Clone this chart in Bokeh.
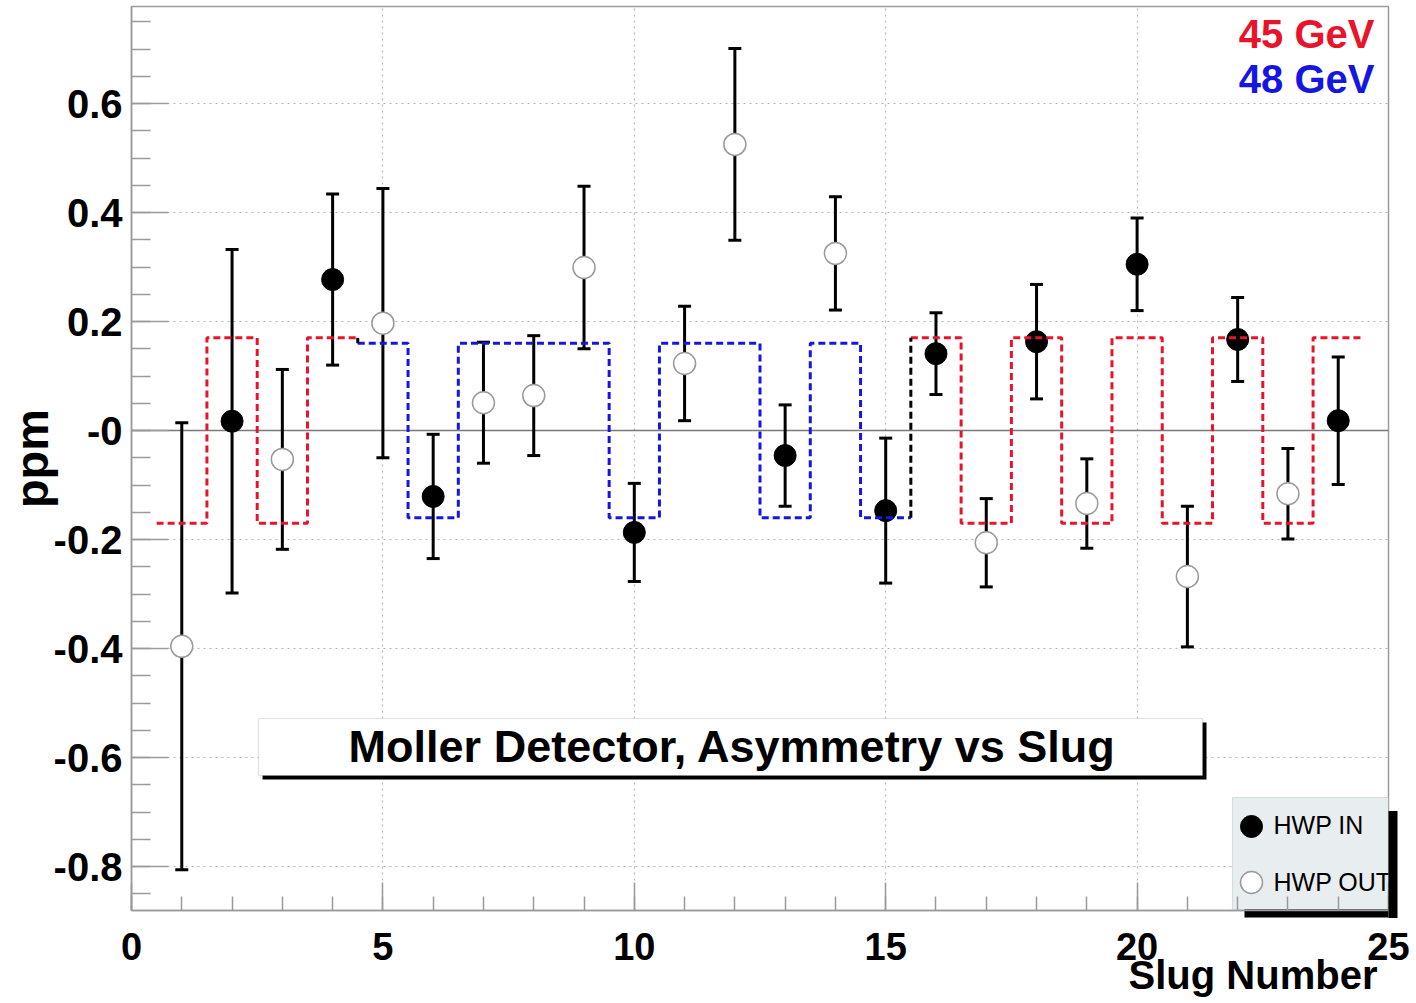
import math
from bokeh.plotting import figure
from bokeh.models import (Range1d, FixedTicker, Whisker, TeeHead, ColumnDataSource,
                          Span, BoxAnnotation, Label, LinearAxis)
from bokeh.embed import file_html
from bokeh.resources import INLINE

# ---------------- data ----------------
slug = list(range(1, 25))
asym_ppm = [-0.396, 0.017, -0.053, 0.277, 0.197, -0.121, 0.051, 0.064, 0.299, -0.187,
            0.123, 0.525, -0.046, 0.325, -0.147, 0.141, -0.206, 0.163, -0.134, 0.305,
            -0.268, 0.167, -0.116, 0.018]
err_ppm = [0.410, 0.315, 0.165, 0.157, 0.247, 0.114, 0.111, 0.110, 0.149, 0.090,
           0.105, 0.176, 0.093, 0.104, 0.133, 0.075, 0.081, 0.105, 0.082, 0.085,
           0.129, 0.077, 0.083, 0.117]
hwp = ["OUT", "IN", "OUT", "IN", "OUT", "IN", "OUT", "OUT", "OUT", "IN",
       "OUT", "OUT", "IN", "OUT", "IN", "IN", "OUT", "IN", "OUT", "IN",
       "OUT", "IN", "OUT", "IN"]
beam_gev = [45, 45, 45, 45, 48, 48, 48, 48, 48, 48,
            48, 48, 48, 48, 48, 45, 45, 45, 45, 45,
            45, 45, 45, 45]
model_ppm = [-0.17, 0.17, -0.17, 0.17, 0.16, -0.16, 0.16, 0.16, 0.16, -0.16,
             0.16, 0.16, -0.16, 0.16, -0.16, 0.17, -0.17, 0.17, -0.17, 0.17,
             -0.17, 0.17, -0.17, 0.17]
x_ticks = [0, 5, 10, 15, 20, 25]
y_ticks = [-0.8, -0.6, -0.4, -0.2, 0.0, 0.2, 0.4, 0.6]
y_tick_labels = ["-0.8", "-0.6", "-0.4", "-0.2", "-0", "0.2", "0.4", "0.6"]
energy_names = {45: "45 GeV", 48: "48 GeV"}
energy_colors = {45: "#e8142c", 48: "#1616e2"}
legend_names = ["HWP IN", "HWP OUT"]
title_text = "Moller Detector, Asymmetry vs Slug"
x_title = "Slug Number"
y_title = "ppm"

# ---------------- layout helpers (canvas pixels -> data) ----------------
FRAME_L, FRAME_R, FRAME_T, FRAME_B = 131.0, 1388.0, 6.0, 910.0
PX_PER_X = (FRAME_R - FRAME_L) / 25.0
ZERO_Y, PX_PER_Y = 430.0, 545.0


def dx(px):
    return (px - FRAME_L) / PX_PER_X


def dy(py):
    return (ZERO_Y - py) / PX_PER_Y


FONT = "Liberation Sans"
GREY = "#9a9a9a"

p = figure(width=1416, height=1003, title=None,
           x_range=Range1d(0, 25), y_range=Range1d(dy(FRAME_B), dy(FRAME_T)),
           output_backend="svg", toolbar_location=None,
           min_border_left=int(FRAME_L), min_border_right=1416 - int(FRAME_R),
           min_border_top=int(FRAME_T), min_border_bottom=1003 - int(FRAME_B),
           background_fill_color="white", border_fill_color="white")
p.outline_line_color = GREY
p.outline_line_width = 1.5

# main axes
xaxis = p.xaxis[0]
yaxis = p.yaxis[0]
xaxis.ticker = FixedTicker(ticks=x_ticks, minor_ticks=list(range(0, 26)))
yaxis.ticker = FixedTicker(ticks=y_ticks,
                           minor_ticks=[round(-0.85 + 0.05 * k, 2) for k in range(33)])
yaxis.major_label_overrides = {t: l for t, l in zip(y_ticks, y_tick_labels)}
xaxis.major_label_overrides = {t: str(t) for t in x_ticks}
for ax in (xaxis, yaxis):
    ax.axis_line_color = GREY
    ax.axis_line_width = 1.5
    ax.major_tick_line_color = GREY
    ax.major_tick_line_width = 1.5
    ax.minor_tick_line_color = GREY
    ax.minor_tick_line_width = 1.5
    ax.major_tick_out = 0
    ax.minor_tick_out = 0
    ax.major_label_text_font = FONT
    ax.major_label_text_font_style = "bold"
    ax.major_label_text_color = "black"
yaxis.major_tick_in = 37
yaxis.minor_tick_in = 19
yaxis.major_label_text_font_size = "40px"
yaxis.major_label_standoff = 9
xaxis.major_tick_in = 28
xaxis.minor_tick_in = 14
xaxis.major_label_text_font_size = "38px"
xaxis.major_label_standoff = 22


def bare_axis(ax):
    ax.ticker = FixedTicker(ticks=[], minor_ticks=[])
    ax.axis_line_color = None
    ax.major_tick_line_color = None
    ax.minor_tick_line_color = None
    ax.major_tick_in = ax.major_tick_out = 0
    ax.minor_tick_in = ax.minor_tick_out = 0
    ax.major_label_standoff = 0
    ax.major_label_text_font_size = "0px"
    ax.axis_label_text_font = FONT
    ax.axis_label_text_font_style = "bold"
    ax.axis_label_text_color = "black"
    return ax


# legend drop shadow, bottom part: one wide tick of a helper axis next to the frame
sh_b = bare_axis(LinearAxis())
sh_b.ticker = FixedTicker(ticks=[dx(1316)], minor_ticks=[])
sh_b.major_label_overrides = {dx(1316): ""}
sh_b.major_tick_line_color = "black"
sh_b.major_tick_line_width = 144
sh_b.major_tick_line_cap = "butt"
sh_b.major_tick_in = -7
sh_b.major_tick_out = -1

# x title: right-aligned under the axis end in the reference; drawn as the single
# label of a helper axis, centred where the reference title is centred
X_TITLE_CENTER = dx(1252.5)
xt = bare_axis(LinearAxis())
xt.ticker = FixedTicker(ticks=[X_TITLE_CENTER], minor_ticks=[])
xt.major_label_overrides = {X_TITLE_CENTER: x_title}
xt.major_label_text_font = FONT
xt.major_label_text_font_style = "bold"
xt.major_label_text_color = "black"
xt.major_label_text_font_size = "40px"
xt.major_label_standoff = -10

p.below = [sh_b, xaxis, xt]

# y title
yt = bare_axis(LinearAxis())
yt.axis_label = y_title
yt.axis_label_text_font_size = "47px"
yt.axis_label_standoff = -7
p.left = [yaxis, yt]

# legend drop shadow, right part: one thick tick of a helper axis on the right
sh_r = LinearAxis()
sh_r.ticker = FixedTicker(ticks=[dy(863.5)], minor_ticks=[])
sh_r.major_label_overrides = {dy(863.5): ""}
sh_r.major_label_text_font_size = "0px"
sh_r.axis_line_color = None
sh_r.major_tick_in = 0
sh_r.major_tick_out = 9
sh_r.major_tick_line_color = "black"
sh_r.major_tick_line_width = 107
sh_r.major_tick_line_cap = "butt"
p.add_layout(sh_r, "right")

# grid
p.xgrid.ticker = FixedTicker(ticks=x_ticks[1:-1])
p.ygrid.ticker = FixedTicker(ticks=y_ticks)
for g in (p.xgrid[0], p.ygrid[0]):
    g.grid_line_color = "#b4b4b4"
    g.grid_line_dash = "2 4"
    g.grid_line_width = 1.2
    g.level = "image"

# zero line
p.add_layout(Span(location=0, dimension="width", line_color="#7a7a7a",
                  line_width=1.5, level="underlay"))

# ---------------- title box ----------------
p.add_layout(BoxAnnotation(left=dx(262), right=dx(1206), top=dy(722), bottom=dy(779),
                           fill_color="black", fill_alpha=1.0, line_color=None,
                           level="underlay"))
p.add_layout(BoxAnnotation(left=dx(258), right=dx(1202), top=dy(718), bottom=dy(775),
                           fill_color="white", fill_alpha=1.0, line_color=GREY,
                           line_width=1.2, level="underlay"))

# ---------------- legend box ----------------
p.add_layout(BoxAnnotation(left=dx(1232), right=dx(1388), top=dy(797), bottom=dy(909),
                           fill_color="#e8edf0", fill_alpha=1.0, line_color=GREY,
                           line_width=1.2, level="underlay"))

# ---------------- error bars ----------------
src = ColumnDataSource(dict(
    slug=slug, asym=asym_ppm,
    upper=[a + e for a, e in zip(asym_ppm, err_ppm)],
    lower=[a - e for a, e in zip(asym_ppm, err_ppm)],
    hwp=hwp))
p.add_layout(Whisker(source=src, base="slug", upper="upper", lower="lower",
                     line_color="black", line_width=3, level="underlay",
                     upper_head=TeeHead(size=13, line_width=3, line_color="black"),
                     lower_head=TeeHead(size=13, line_width=3, line_color="black")))

# ---------------- points ----------------
in_idx = [i for i, h in enumerate(hwp) if h == "IN"]
out_idx = [i for i, h in enumerate(hwp) if h == "OUT"]
src_in = ColumnDataSource(dict(x=[slug[i] for i in in_idx], y=[asym_ppm[i] for i in in_idx]))
src_out = ColumnDataSource(dict(x=[slug[i] for i in out_idx], y=[asym_ppm[i] for i in out_idx]))
p.scatter("x", "y", source=src_in, size=22, marker="circle",
          fill_color="black", line_color="black")
p.scatter("x", "y", source=src_out, size=22, marker="circle",
          fill_color="white", line_color=GREY, line_width=1.5)

# ---------------- expected asymmetry steps ----------------
groups = []
for i, e in enumerate(beam_gev):
    if not groups or groups[-1][0] != e:
        groups.append([e, []])
    groups[-1][1].append(i)
for e, idx in groups:
    xs, ys = [], []
    for i in idx:
        xs += [slug[i] - 0.5, slug[i] + 0.5]
        ys += [model_ppm[i], model_ppm[i]]
    p.line(xs, ys, line_color=energy_colors[e], line_width=3, line_dash="7 4")
for (e0, idx0), (e1, idx1) in zip(groups[:-1], groups[1:]):
    xb = slug[idx0[-1]] + 0.5
    p.line([xb, xb], [model_ppm[idx0[-1]], model_ppm[idx1[0]]],
           line_color="black", line_width=3, line_dash="7 4")

# ---------------- legend contents ----------------
p.scatter([dx(1251)], [dy(826)], size=22, marker="circle",
          fill_color="black", line_color="black")
p.scatter([dx(1251)], [dy(882)], size=22, marker="circle",
          fill_color="white", line_color=GREY, line_width=1.5)
for name, mid in zip(legend_names, (824, 881)):
    p.add_layout(Label(x=dx(1273), y=dy(mid), text=name, text_font=FONT,
                       text_font_size="25px", text_color="black",
                       text_align="left", text_baseline="middle"))

# ---------------- texts ----------------
for e, mid in zip((45, 48), (33, 78)):
    p.add_layout(Label(x=dx(1374), y=dy(mid), text=energy_names[e], text_font=FONT,
                       text_font_size="40px", text_font_style="bold",
                       text_color=energy_colors[e], text_align="right",
                       text_baseline="middle"))
p.add_layout(Label(x=dx(732), y=dy(746), text=title_text, text_font=FONT,
                   text_font_size="45px", text_font_style="bold", text_color="black",
                   text_align="center", text_baseline="middle"))

open("out.html", "w").write(file_html(p, INLINE))
